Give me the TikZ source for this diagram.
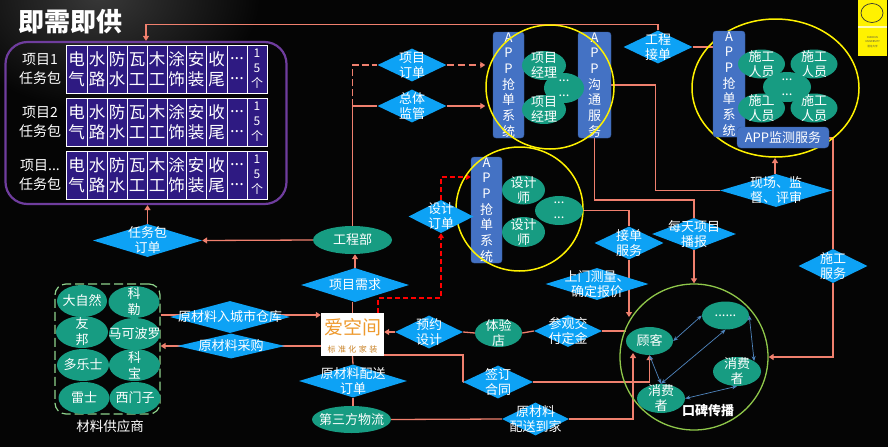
\documentclass[tikz,border=0pt]{standalone}
\usepackage{fontspec}
\setmainfont{Noto Sans CJK SC}
\usetikzlibrary{shapes.geometric,arrows.meta,backgrounds}
\definecolor{bgblack}{HTML}{050505}
\definecolor{skyblue}{HTML}{0DA2F5}
\definecolor{teal}{HTML}{179C82}
\definecolor{appblue}{HTML}{4472C4}
\definecolor{salmon}{HTML}{F0806E}
\definecolor{cellblue}{HTML}{2E1A82}
\definecolor{ringpurple}{HTML}{6F3D9E}
\definecolor{ringgreen}{HTML}{8FC74A}
\definecolor{dashgreen}{HTML}{8ED28C}
\definecolor{arrowblue}{HTML}{4F86BF}
\definecolor{logoorange}{HTML}{EE9A2E}
\def\dotz{...}
% text wider than its shape
\newcommand\tx[2][15]{\smash{\makebox[0pt]{\setbox0=\vbox{\let\\\cr\baselineskip=#1pt\lineskiplimit=-99pt\halign{\hfil##\hfil\cr#2\crcr}}\lower\dimexpr(\ht0-\dp0)/2\relax\box0}}}
\tikzset{
  dia/.style n args={2}{diamond,fill=skyblue,inner sep=0,minimum width=#1pt,minimum height=#2pt,text=white,font=\fontsize{13}{15}\selectfont},
  oval/.style n args={2}{ellipse,fill=teal,inner sep=0,minimum width=#1pt,minimum height=#2pt,text=white,font=\fontsize{13}{15}\selectfont},
  appbox/.style n args={2}{rectangle,rounded corners=3pt,fill=appblue,draw=appblue!80!black,inner sep=0,minimum width=#1pt,minimum height=#2pt,text=white,font=\fontsize{13}{15}\selectfont},
  ring/.style={draw=yellow,line width=1.5pt,ellipse,inner sep=0},
  cellbox/.style={rectangle,fill=cellblue,draw=white,line width=.7pt,inner sep=0,minimum height=48pt,text=white,font=\fontsize{16.5}{19}\selectfont},
  txt/.style={text=white,inner sep=0,font=\fontsize{14}{16}\selectfont},
  wire/.style={draw=salmon,line width=1.3pt},
  wirearrow/.style={wire,-{Triangle[width=6pt,length=5pt]}},
  redwire/.style={draw=red,line width=1.3pt,dash pattern=on 5pt off 3pt,-{Triangle[width=6pt,length=5pt]}},
  talk/.style={draw=arrowblue,line width=.7pt,{Stealth[length=5pt,width=4pt]}-{Stealth[length=5pt,width=4pt]}},
}
\begin{document}
\begin{tikzpicture}[x=1pt,y=-1pt]
\useasboundingbox (0,0) rectangle (888,447);
\begin{scope}[on background layer]
  \fill[bgblack] (0,0) rectangle (888,447);
  \shade[inner color=white!22!black,outer color=bgblack,shading=radial] (-60,-120) rectangle (260,110);
\end{scope}
% title and corner logo
\node[text=white,inner sep=0,font=\fontsize{26}{28}\selectfont\bfseries] (title) at (70,22) {即需即供};
\node[fill=yellow,inner sep=0,minimum width=29pt,minimum height=56pt] (corner) at (872.5,28) {};
\fill[white!70!yellow] (858,26) rectangle (887,28);
\node[ellipse,draw=black!80,line width=.7pt,inner sep=0,minimum width=22pt,minimum height=19pt] (cornerring) at (872,13) {};
\node[inner sep=0,text=black!70,align=center,font=\fontsize{2.6}{4.5}\selectfont] (cornertext) at (872.5,42) {HUNDUN\\UNIVERSITY\\混沌大学};
% task packages
\node[rectangle,rounded corners=22pt,draw=ringpurple,line width=2.2pt,minimum width=281pt,minimum height=162pt,inner sep=0] (packs) at (146,123) {};
\foreach\y/\pname/\n in {69/项目1/1,122/项目2/2,175/项目\dotz/3}
{
  \node[txt] (pack\n) at (40,\y) {\tx[18.5]{\pname\\任务包}};
  \foreach\a/\b/\txta/\txtb/\c in {66/87/电/气/1,87/107/水/路/2,107/127/防/水/3,127/147/瓦/工/4,147/167/木/工/5,167/186/涂/饰/6,186/206/安/装/7,206/227/收/尾/8,227/247/\dotz/\dotz/9}
    \node[cellbox,minimum width={(\b-\a)*1pt}] (cell\n\c) at ({(\a+\b)/2},\y) {\tx[20]{\txta\\\txtb}};
  \node[cellbox,minimum width=20pt,font=\fontsize{12}{15}\selectfont] (cell\n x) at (257,\y) {\tx{1\\5\\个}};
}
% app bars and rings
\node[appbox={31}{106}] (appa) at (508.5,85) {\tx[15.7]{A\\P\\P\\抢\\单\\系\\统}};
\node[appbox={33}{106}] (appb) at (594.5,85) {\tx[15.7]{A\\P\\P\\沟\\通\\服\\务}};
\node[appbox={31}{106}] (appc) at (486.5,210) {\tx[15.7]{A\\P\\P\\抢\\单\\系\\统}};
\node[ring,minimum width=128pt,minimum height=124pt] (yella) at (550,87) {};
\node[ring,minimum width=127pt,minimum height=124pt] (yellb) at (519.5,209) {};
\node[ring,minimum width=167pt,minimum height=138pt] (yellc) at (775.5,88) {};
\node[appbox={32}{106}] (appd) at (729,84) {\tx[15.7]{A\\P\\P\\抢\\单\\系\\统}};
% people in the rings
\node[oval={40}{30}] (mgrdots) at (564,88) {\tx{...\\...}};
\node[oval={44}{29}] (mgra) at (544,65.5) {\tx{项目\\经理}};
\node[oval={44}{29}] (mgrb) at (544,109.5) {\tx{项目\\经理}};
\node[oval={48}{29}] (desdots) at (559,210.5) {\tx{...\\...}};
\node[oval={43}{29}] (desa) at (523.5,190) {\tx{设计\\师}};
\node[oval={43}{30}] (desb) at (523.5,232) {\tx{设计\\师}};
\node[oval={47}{29}] (worka) at (761.5,64) {\tx{施工\\人员}};
\node[oval={47}{29}] (workb) at (814,64) {\tx{施工\\人员}};
\node[oval={47}{29}] (workc) at (761.5,108) {\tx{施工\\人员}};
\node[oval={47}{29}] (workd) at (814,108) {\tx{施工\\人员}};
\node[oval={48}{30}] (workdots) at (787,87) {\tx{...\\...}};
\node[appbox={92}{21},rounded corners=4pt] (appwatch) at (783,137.5) {APP监测服务};
% diamonds
\node[dia={69}{33}] (xmdd) at (412,65) {\tx{项目\\订单}};
\node[dia={69}{33}] (ztjg) at (412,106) {\tx{总体\\监管}};
\node[dia={69}{33}] (gcjd) at (658,47) {\tx{工程\\接单}};
\node[dia={112}{33}] (xcjd) at (776,190.5) {\tx{现场、监\\督、评审}};
\node[dia={65}{33}] (sjdd) at (441,216.5) {\tx{设计\\订单}};
\node[dia={69}{33}] (jdfw) at (629,243) {\tx{接单\\服务}};
\node[dia={84}{32}] (mtbb) at (694,234) {\tx{每天项目\\播报}};
\node[dia={69}{34}] (sgfw) at (833,266) {\tx{施工\\服务}};
\node[dia={103}{32}] (smcl) at (597,284) {\tx{上门测量、\\确定报价}};
\node[dia={68}{32}] (cgjf) at (568,331) {\tx{参观交\\付定金}};
\node[dia={68}{33}] (yysj) at (429,332) {\tx{预约\\设计}};
\node[dia={70}{33}] (qdht) at (498,382) {\tx{签订\\合同}};
\node[dia={67}{33}] (clpj) at (535.5,419) {\tx{原材料\\配送到家}};
\node[dia={108}{33}] (clps) at (353,381) {\tx{原材料配送\\订单}};
\node[dia={108}{34}] (xmxq) at (355,285) {\tx{项目需求}};
\node[dia={109}{33}] (rwdd) at (147.5,240.5) {\tx{任务包\\订单}};
\node[dia={120}{32}] (clrk) at (230,317) {\tx{原材料入城市仓库}};
\node[dia={108}{25}] (clcg) at (231,346) {\tx{原材料采购}};
% ovals on their own
\node[oval={79}{28}] (gcb) at (352.5,240) {\tx{工程部}};
\node[oval={47}{28}] (tyd) at (498.5,333) {\tx{体验\\店}};
\node[oval={79}{27}] (wuliu) at (351.5,419.5) {\tx{第三方物流}};
% logo
\node[rectangle,fill=white,inner sep=0,minimum width=63pt,minimum height=43pt] (logo) at (352.5,334.5) {};
\node[inner sep=0,text=logoorange,font=\fontsize{19}{21}\selectfont] (logoname) at (352.5,327) {爱空间};
\node[inner sep=0,text=logoorange!85!black,font=\fontsize{8}{9}\selectfont\addfontfeature{LetterSpace=30}] (logosub) at (352.5,349) {标准化家装};
% suppliers
\node[rectangle,rounded corners=11pt,draw=dashgreen,line width=1.2pt,dash pattern=on 9pt off 4pt,inner sep=0,minimum width=105pt,minimum height=130pt] (suppliers) at (107.5,349) {};
\foreach\x/\y/\sname/\wdt/\nm in {82/301/大自然/50/a,134/302/科\\勒/51/b,82/332/友\\邦/52/c,134.5/334/马可波罗/51/d,83/365/多乐士/52/e,134.5/365/科\\宝/51/f,84/398/雷士/51/g,135/398/西门子/51/h}
  \node[oval={\wdt}{32}] (sup\nm) at (\x,\y) {\tx[16]{\sname}};
\node[txt,font=\fontsize{13.5}{15}\selectfont] (suplabel) at (110,426.5) {材料供应商};
% word of mouth ring
\node[draw=ringgreen,line width=1.3pt,ellipse,inner sep=0,minimum width=148pt,minimum height=146pt] (mouth) at (694,357) {};
\node[oval={47}{28}] (guke) at (649.5,341) {\tx{顾客}};
\node[oval={47}{28}] (more) at (725.5,315.5) {\tx{......}};
\node[oval={48}{29}] (xfa) at (737,371.5) {\tx{消费\\者}};
\node[oval={48}{29}] (xfb) at (661,398.5) {\tx{消费\\者}};
\node[txt,font=\fontsize{13}{15}\selectfont\bfseries] (mouthlabel) at (708,411) {口碑传播};
\draw[talk] (guke.east) -- (more.west);
\draw[talk] (guke.south) -- (xfb.north);
\draw[talk] (xfb.north) -- (more.south);
\draw[talk] (xfb.east) -- (xfa.south);
\draw[talk] (more.east) -- (xfa.north east);
% connectors
\begin{scope}[on background layer]
\draw[wire] (gcb.north) -- (ztjg.west -| gcb.north);
\draw[wire,dash pattern=on 7pt off 3pt] (ztjg.west -| gcb.north) |- (xmdd.west);
\draw[wire] (ztjg.west -| gcb.north) -- (ztjg.west);
\draw[wirearrow,dash pattern=on 7pt off 4pt] (xmdd.east) -- (xmdd.east -| yella.west);
\draw[wirearrow] (ztjg.east) -- (ztjg.east -| yella.west);
\draw[wirearrow] (gcb.west) -- (rwdd.east);
\draw[wirearrow] (rwdd.north) -- (rwdd.north |- packs.south);
\draw[wirearrow] (gcjd.north) -- ++(0,-6) -| (packs.north);
\draw[wire] (gcjd.east) -- (gcjd.east -| appd.west);
\draw[wirearrow] (xmxq.north) -- (xmxq.north |- gcb.south);
\draw[wire] (logo.north) -- (logo.north |- xmxq.south);
\coordinate (redstart) at (378,313);
\draw[redwire] (redstart) -- ++(0,-15) -| (sjdd.south);
\draw[redwire] (sjdd.north) |- (appc.west |- 0,177);
\draw[wirearrow] (suppliers.east |- 0,315) -- (logo.west |- 0,315);
\draw[wirearrow] (logo.west |- clcg.east) -- (suppliers.east |- clcg.east);
\draw[wirearrow] (yysj.west) -- (logo.east |- yysj.west);
\draw[wire] (yysj.east) -- (tyd.west);
\draw[wire] (tyd.east) -- (cgjf.west);
\draw[wire] (cgjf.east) -- (guke.west |- cgjf.east);
\draw[wire] (logo.south) -- (clps.north);
\draw[wire] (clps.south) -- (clps.south |- wuliu.north);
\draw[wire] (logo.east |- 0,355) -| (463,382) -- (qdht.west);
\draw[wirearrow] (qdht.east) -| (guke.south);
\draw[wire] (wuliu.east) -- (clpj.west);
\draw[wirearrow] (clpj.east) -| (633,353);
\draw[wire] (desdots.east) -| (jdfw.north);
\draw[wirearrow] (jdfw.south) -- (629,317);
\draw[wire] (appb.south) |- (mtbb.north |- 0,200) -- (mtbb.north);
\draw[wirearrow] (mtbb.south) -- (mtbb.south |- mouth.north);
\draw[wire] (appb.east) -- ++(44,0) |- (xcjd.west);
\draw[wirearrow] (xcjd.north -| 775,0) -- (775,158);
\draw[wire] (appwatch.east |- 0,138) -| (sgfw.north);
\draw[wirearrow] (sgfw.south) |- (mouth.east);
\end{scope}
\end{tikzpicture}
\end{document}
